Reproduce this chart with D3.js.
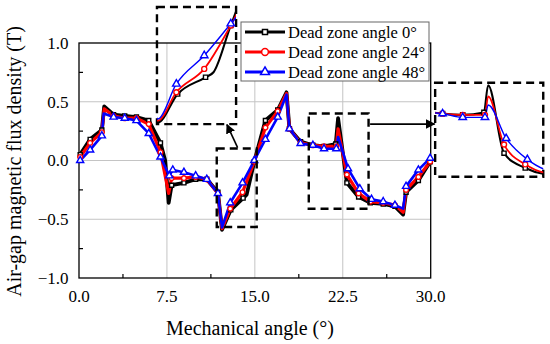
<!DOCTYPE html>
<html>
<head>
<meta charset="utf-8">
<script src="https://cdn.jsdelivr.net/npm/d3@7"></script>
<style>
  body { margin: 0; background: #fff; }
</style>
</head>
<body>
<div id="chart"></div>
<script>
// Air-gap flux density vs mechanical angle, three dead zone angles

const xTicks = [0, 7.5, 15, 22.5, 30];
const yTicks = [-1, -0.5, 0, 0.5, 1];
const xMinor = [3.75, 11.25, 18.75, 26.25];
const yMinor = [-0.75, -0.25, 0.25, 0.75];
const seriesNames = ['Dead zone angle 0°', 'Dead zone angle 24°', 'Dead zone angle 48°'];

// points with a marker: [angle, B]
const dz0Marks = [[0.1,0.05],[0.95,0.18],[1.95,0.26],[2.95,0.39],[3.9,0.38],[4.9,0.37],[5.95,0.34],[6.95,0.15],
  [7.9,-0.21],[8.95,-0.19],[9.95,-0.16],[10.9,-0.16],[11.85,-0.27],[12.95,-0.42],[14.0,-0.32],[14.95,-0.01],
  [15.9,0.34],[16.95,0.43],[17.95,0.27],[18.9,0.16],[19.95,0.13],[20.9,0.12],[21.9,0.14],[22.85,-0.19],
  [23.85,-0.31],[24.85,-0.36],[25.95,-0.37],[26.95,-0.39],[27.9,-0.27],[28.95,-0.17],[29.95,-0.01]];
// vertices without a marker (spikes / dips)
const dz0Extra = [[2.15,0.46],[7.35,0.0],[7.65,-0.36],[12.2,-0.59],[14.3,-0.29],[17.7,0.58],[22.1,0.36],[27.65,-0.46]];

const dz24Marks = [[0.1,0.03],[0.95,0.15],[1.95,0.24],[2.95,0.38],[3.9,0.36],[4.9,0.36],[5.95,0.31],[6.95,0.07],
  [7.9,-0.15],[8.95,-0.15],[9.95,-0.14],[10.9,-0.16],[11.85,-0.28],[12.9,-0.41],[13.95,-0.27],[14.95,-0.01],
  [15.9,0.28],[16.95,0.42],[17.95,0.27],[18.9,0.15],[19.95,0.13],[20.9,0.12],[21.95,0.12],[22.85,-0.12],
  [23.85,-0.28],[24.85,-0.35],[25.95,-0.36],[26.95,-0.38],[27.9,-0.25],[28.95,-0.14],[29.95,-0.01]];
const dz24Extra = [[2.15,0.44],[7.65,-0.28],[12.2,-0.58],[17.7,0.57],[22.1,0.27],[27.65,-0.44]];

const dz48Marks = [[0.1,0.0],[0.95,0.09],[1.95,0.21],[2.95,0.37],[3.9,0.36],[4.9,0.34],[5.95,0.23],[6.95,0.03],
  [7.7,-0.13],[8.0,-0.08],[8.95,-0.10],[9.95,-0.13],[10.9,-0.16],[11.85,-0.28],[12.9,-0.36],[13.95,-0.19],[14.95,0.0],
  [15.9,0.18],[16.95,0.37],[17.95,0.27],[18.9,0.145],[19.95,0.13],[20.9,0.10],[21.95,0.10],[22.95,-0.07],
  [23.95,-0.24],[24.95,-0.33],[25.95,-0.35],[26.95,-0.38],[27.9,-0.22],[28.95,-0.08],[29.95,0.02]];
const dz48Extra = [[2.1,0.40],[12.2,-0.57],[17.7,0.56],[22.1,0.20],[27.65,-0.41]];

// zoom windows in data units: [x0, x1, y0, y1]
const zoom1Src = [11.75, 15.16, -0.566, 0.102];
const zoom1Dst = [6.65, 13.4, 0.31, 1.306];
const zoom1View = [12.17, 15.15, -0.6, 0.1];
const zoom2Src = [19.6, 24.7, -0.41, 0.40];
const zoom2Dst = [30.38, 39.6, -0.138, 0.662];
const zoom2View = [19.6, 24.7, -0.38, 0.38];
const arrowLines = [[[13.53, 0.109], [12.62, 0.306]], [[24.83, 0.31], [30.33, 0.31]]];

const W = 550, H = 344;
const FONT = 'Liberation Serif';
const svg = d3.select('#chart').append('svg').attr('width', W).attr('height', H);

const x = d3.scaleLinear().domain([0, 30]).range([79, 430.7]);
const y = d3.scaleLinear().domain([-1, 1]).range([278, 43]);
const fmt = d3.format('.1f');

const series = [
  { name: seriesNames[0], color: '#000', marks: dz0Marks, extra: dz0Extra, sym: d3.symbolSquare, lw: 3.8, ms: 16, ls: 25 },
  { name: seriesNames[1], color: '#f00', marks: dz24Marks, extra: dz24Extra, sym: d3.symbolCircle, lw: 3.2, ms: 18, ls: 36 },
  { name: seriesNames[2], color: '#00f', marks: dz48Marks, extra: dz48Extra, sym: d3.symbolTriangle, lw: 2.6, ms: 22, ls: 34 }
];
series.forEach(s => { s.pts = s.marks.concat(s.extra).sort((a, b) => a[0] - b[0]); });

// grid
svg.append('g').selectAll('line').data(xTicks.slice(1, -1)).join('line')
  .attr('x1', d => x(d)).attr('x2', d => x(d)).attr('y1', y(-1)).attr('y2', y(1))
  .attr('stroke', '#c4c4c4').attr('stroke-width', 1);
svg.append('g').selectAll('line').data(yTicks.slice(1, -1)).join('line')
  .attr('y1', d => y(d)).attr('y2', d => y(d)).attr('x1', x(0)).attr('x2', x(30))
  .attr('stroke', '#c4c4c4').attr('stroke-width', 1);

// frame + minor ticks
svg.append('rect').attr('x', x(0)).attr('y', y(1)).attr('width', x(30) - x(0)).attr('height', y(-1) - y(1))
  .attr('fill', 'none').attr('stroke', '#000').attr('stroke-width', 1.3);
svg.append('g').selectAll('line').data(xMinor).join('line')
  .attr('x1', d => x(d)).attr('x2', d => x(d)).attr('y1', y(-1)).attr('y2', y(-1) - 4)
  .attr('stroke', '#000').attr('stroke-width', 1.2);
svg.append('g').selectAll('line').data(yMinor).join('line')
  .attr('y1', d => y(d)).attr('y2', d => y(d)).attr('x1', x(0)).attr('x2', x(0) + 4)
  .attr('stroke', '#000').attr('stroke-width', 1.2);

// tick labels
svg.append('g').selectAll('text').data(xTicks).join('text')
  .attr('x', d => x(d)).attr('y', 302).attr('text-anchor', 'middle')
  .attr('font-family', FONT).attr('font-size', '17px').text(d => fmt(d));
svg.append('g').selectAll('text').data(yTicks).join('text')
  .attr('x', 68.5).attr('y', d => y(d)).attr('dy', '0.35em').attr('text-anchor', 'end')
  .attr('font-family', FONT).attr('font-size', '17px').text(d => fmt(d));

// axis titles
svg.append('text').attr('x', 250).attr('y', 335).attr('text-anchor', 'middle')
  .attr('font-family', FONT).attr('font-size', '20px').text('Mechanical angle (°)');
svg.append('text').attr('transform', `translate(21,${161.5}) rotate(-90)`).attr('text-anchor', 'middle')
  .attr('font-family', FONT).attr('font-size', '20px').text('Air-gap magnetic flux density (T)');

function drawSeries(g, xs, ys, curve, lwScale, msScale, view) {
  series.forEach(s => {
    const line = d3.line().x(d => xs(d[0])).y(d => ys(d[1])).curve(curve);
    g.append('path').datum(s.pts).attr('d', line)
      .attr('fill', 'none').attr('stroke', s.color).attr('stroke-width', s.lw * lwScale)
      .attr('stroke-linejoin', 'round');
  });
  series.forEach(s => {
    const pts = view ? s.marks.filter(d => d[0] >= view[0] && d[0] <= view[1]) : s.marks;
    g.append('g').selectAll('path').data(pts).join('path')
      .attr('transform', d => `translate(${xs(d[0])},${ys(d[1])})`)
      .attr('d', d3.symbol().type(s.sym).size(s.ms * msScale))
      .attr('fill', '#fff').attr('stroke', s.color).attr('stroke-width', 1.4);
  });
}

// main curves
drawSeries(svg.append('g'), x, y, d3.curveLinear, 1, 1, null);

// source boxes, arrows and magnified insets
function dashedBox(b) {
  svg.append('rect').attr('x', x(b[0])).attr('y', y(b[3]))
    .attr('width', x(b[1]) - x(b[0])).attr('height', y(b[2]) - y(b[3]))
    .attr('fill', 'none').attr('stroke', '#000').attr('stroke-width', 2.4)
    .attr('stroke-dasharray', '8,5');
}
[zoom1Src, zoom2Src, zoom1Dst, zoom2Dst].forEach(dashedBox);

svg.append('defs').append('marker').attr('id', 'ah')
  .attr('viewBox', '0 0 10 10').attr('refX', 9).attr('refY', 5)
  .attr('markerWidth', 6).attr('markerHeight', 6).attr('orient', 'auto')
  .append('path').attr('d', 'M0,0L10,5L0,10Z').attr('fill', '#000');
svg.append('g').selectAll('line').data(arrowLines).join('line')
  .attr('x1', d => x(d[0][0])).attr('y1', d => y(d[0][1]))
  .attr('x2', d => x(d[1][0])).attr('y2', d => y(d[1][1]))
  .attr('stroke', '#000').attr('stroke-width', 1.6).attr('marker-end', 'url(#ah)');

function inset(id, dst, view) {
  const xs = d3.scaleLinear().domain([view[0], view[1]]).range([x(dst[0]), x(dst[1])]);
  const ys = d3.scaleLinear().domain([view[2], view[3]]).range([y(dst[2]), y(dst[3])]);
  svg.select('defs').append('clipPath').attr('id', id).append('rect')
    .attr('x', x(dst[0])).attr('y', y(dst[3]))
    .attr('width', x(dst[1]) - x(dst[0])).attr('height', y(dst[2]) - y(dst[3]));
  const g = svg.append('g').attr('clip-path', `url(#${id})`);
  drawSeries(g, xs, ys, d3.curveMonotoneX, 0.55, 1.1, view);
}
inset('clip1', zoom1Dst, zoom1View);
inset('clip2', zoom2Dst, zoom2View);

// legend
const lg = svg.append('g');
lg.append('rect').attr('x', 241).attr('y', 22).attr('width', 188).attr('height', 59)
  .attr('fill', '#fff').attr('stroke', '#666').attr('stroke-width', 1);
series.forEach((s, i) => {
  const ly = 32 + i * 20;
  lg.append('line').attr('x1', 245).attr('x2', 285).attr('y1', ly).attr('y2', ly)
    .attr('stroke', s.color).attr('stroke-width', 3);
  lg.append('path').attr('transform', `translate(265,${ly})`)
    .attr('d', d3.symbol().type(s.sym).size(s.ls))
    .attr('fill', '#fff').attr('stroke', s.color).attr('stroke-width', 1.5);
  lg.append('text').attr('x', 288).attr('y', ly).attr('dy', '0.35em')
    .attr('font-family', FONT).attr('font-size', '16.5px').text(s.name);
});
</script>
</body>
</html>
